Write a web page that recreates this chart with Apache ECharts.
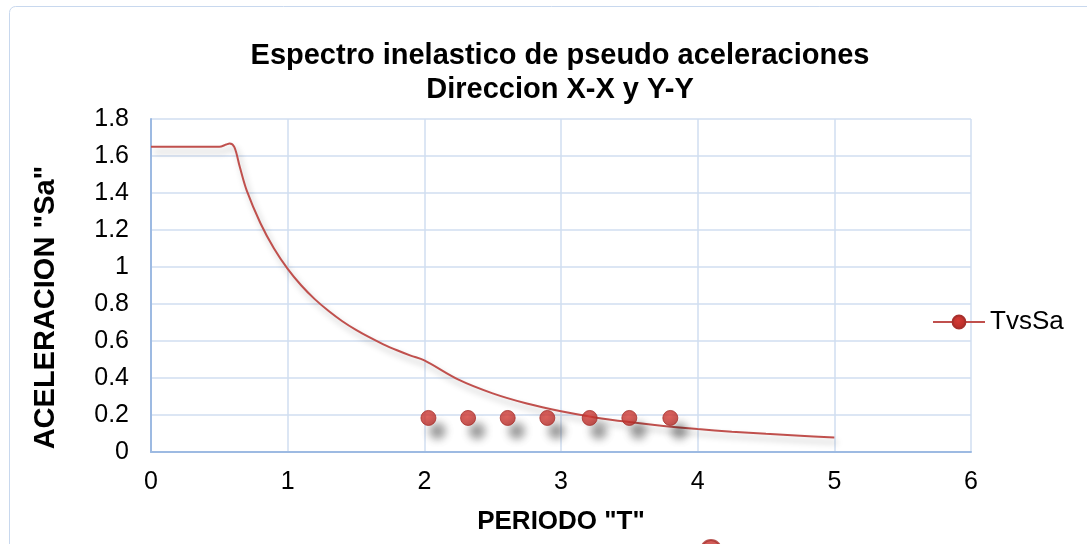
<!DOCTYPE html>
<html>
<head>
<meta charset="utf-8">
<script src="https://cdn.jsdelivr.net/npm/echarts@6/dist/echarts.min.js"></script>
<style>
  html, body { margin: 0; padding: 0; background: #ffffff; }
  #chart { width: 1087px; height: 544px; }
</style>
</head>
<body>
<div id="chart"></div>
<script>
// Periods (s) and spectral accelerations along the design spectrum curve
const periods = [0, 0.1, 0.2, 0.3, 0.4, 0.5, 0.55, 0.575, 0.61, 0.65, 0.7, 0.8, 0.9, 1.0, 1.1, 1.2, 1.3, 1.4, 1.5, 1.6, 1.7, 1.8, 1.9, 2.0,
                 2.25, 2.5, 2.75, 3.0, 3.25, 3.5, 3.75, 4.0, 4.25, 4.5, 4.75, 5.0];
const saValues = [1.65, 1.65, 1.65, 1.65, 1.65, 1.65, 1.662, 1.668, 1.648, 1.54, 1.414, 1.238, 1.10, 0.99, 0.90, 0.825, 0.762, 0.707, 0.66, 0.619, 0.582, 0.55, 0.521, 0.495,
                  0.391, 0.317, 0.262, 0.22, 0.187, 0.162, 0.141, 0.124, 0.110, 0.098, 0.088, 0.079];

// Structure periods with their spectral acceleration
const pointT = [2.03, 2.32, 2.61, 2.90, 3.21, 3.50, 3.80];
const pointSa = [0.184, 0.184, 0.184, 0.184, 0.184, 0.184, 0.184];

const xTicks = [0, 1, 2, 3, 4, 5, 6];
const yTicks = [0, 0.2, 0.4, 0.6, 0.8, 1, 1.2, 1.4, 1.6, 1.8];

const titleText = 'Espectro inelastico de pseudo aceleraciones\nDireccion X-X y Y-Y';
const seriesName = 'TvsSa';
const pointsName = 'Periodos';

const red = '#C0504D';
const gridColor = '#D0DEF1';
const axisColor = '#9DBAE2';
const font = 'Liberation Sans, Arial, sans-serif';

const curveData = periods.map((t, i) => [t, saValues[i]]);
const pointData = pointT.map((t, i) => [t, pointSa[i]]);

const markerStyle = {
  color: {
    type: 'radial', x: 0.45, y: 0.4, r: 0.6,
    colorStops: [{ offset: 0, color: '#D43A34' }, { offset: 1, color: '#B52B27' }]
  },
  borderColor: '#A8302C',
  borderWidth: 1
};

const chart = echarts.init(document.getElementById('chart'));
chart.setOption({
  animation: false,
  backgroundColor: '#ffffff',
  textStyle: { fontFamily: font },
  title: {
    text: titleText,
    left: 555,
    top: 34,
    textAlign: 'center',
    textStyle: { fontFamily: font, fontWeight: 'bold', fontSize: 29, color: '#000', lineHeight: 34 }
  },
  graphic: [{
    type: 'rect',
    shape: { x: 9.5, y: 6.5, width: 1100, height: 600, r: 6 },
    style: { fill: null, stroke: '#C8D8EE', lineWidth: 1 },
    silent: true
  }],
  legend: [{
    data: [seriesName],
    left: 932,
    top: 309,
    padding: 0,
    itemWidth: 52,
    itemHeight: 16,
    itemGap: 4,
    textStyle: { fontFamily: font, fontSize: 26, color: '#000', lineHeight: 26 }
  }, {
    data: [pointsName],
    left: 700,
    top: 539,
    padding: 0,
    itemWidth: 20,
    itemHeight: 20,
    formatter: () => '',
    textStyle: { fontSize: 1 }
  }],
  grid: { left: 151, right: 116, top: 119, bottom: 92 },
  xAxis: {
    type: 'value',
    min: xTicks[0],
    max: xTicks[xTicks.length - 1],
    interval: 1,
    name: 'PERIODO "T"',
    nameLocation: 'middle',
    nameGap: 57,
    nameTextStyle: { fontFamily: font, fontWeight: 'bold', fontSize: 26, color: '#000' },
    axisLine: { show: true, onZero: false, lineStyle: { color: axisColor, width: 2 } },
    axisTick: { show: false },
    axisLabel: { fontFamily: font, fontSize: 25, color: '#000', margin: 18 },
    splitLine: { show: true, lineStyle: { color: gridColor, width: 1.5 } }
  },
  yAxis: {
    type: 'value',
    min: yTicks[0],
    max: yTicks[yTicks.length - 1],
    interval: 0.2,
    name: 'ACELERACION "Sa"',
    nameLocation: 'middle',
    nameGap: 91,
    nameTextStyle: { fontFamily: font, fontWeight: 'bold', fontSize: 29, color: '#000', padding: [0, 44, 0, 0] },
    axisLine: { show: true, onZero: false, lineStyle: { color: axisColor, width: 2 } },
    axisTick: { show: false },
    axisLabel: {
      fontFamily: font, fontSize: 25, color: '#000', margin: 22,
      formatter: v => String(Math.round(v * 10) / 10)
    },
    splitLine: { show: true, lineStyle: { color: gridColor, width: 1.5 } }
  },
  series: [{
    name: seriesName,
    type: 'line',
    data: curveData,
    smooth: 0.35,
    symbol: 'circle',
    symbolSize: 15,
    showSymbol: false,
    itemStyle: markerStyle,
    lineStyle: {
      color: red, width: 2,
      shadowColor: 'rgba(0,0,0,0.28)', shadowBlur: 6, shadowOffsetX: 3, shadowOffsetY: 5
    },
    z: 3
  }, {
    name: pointsName,
    type: 'scatter',
    data: pointData,
    symbol: 'circle',
    symbolSize: 15,
    itemStyle: Object.assign({}, markerStyle, {
      shadowColor: 'rgba(0,0,0,0.5)', shadowBlur: 8, shadowOffsetX: 9, shadowOffsetY: 13
    }),
    z: 4
  }]
});
</script>
</body>
</html>
